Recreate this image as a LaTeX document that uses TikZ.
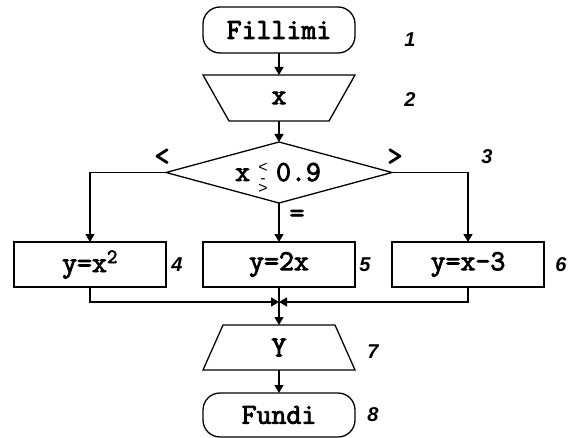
\documentclass[tikz,border=0pt]{standalone}
\usepackage{fontspec}
\setsansfont{Liberation Sans}
\newfontfamily\courfont{Latin Modern Mono}[FakeBold=3]
\usetikzlibrary{arrows.meta,shapes.geometric,calc}
\newcommand{\cmpstack}{\makebox[10pt]{\fontsize{16}{16}\selectfont\sffamily\makebox[0pt]{\raisebox{8pt}{<}}\makebox[0pt]{\raisebox{-2pt}{-}}\makebox[0pt]{\raisebox{-13pt}{>}}}}
\begin{document}
\begin{tikzpicture}[x=1pt,y=-1pt,
  every node/.style={outer sep=0pt},
  txt/.style={font=\fontsize{29}{30}\selectfont\courfont},
  term/.style={txt,draw,rounded corners=17pt,minimum width=152pt,minimum height=46pt,inner sep=0pt},
  proc/.style={txt,draw,minimum width=152pt,minimum height=45pt,inner sep=0pt},
  io/.style={txt,minimum width=152pt,minimum height=46pt,inner sep=0pt},
  num/.style={font=\fontsize{20}{22}\selectfont\sffamily\bfseries\itshape,inner sep=0pt},
  arr/.style={-{Triangle[length=8pt,width=9pt]}},
  line width=1.3pt]
\useasboundingbox (0,0) rectangle (569,438);
\node[term] (start) at (279,30) {Fillimi};
\node[io] (in) at (279,98) {x};
\draw (in.north west) -- (in.north east) -- ($(in.south east)+(-26,0)$) -- ($(in.south west)+(26,0)$) -- cycle;
\node[diamond,draw,minimum width=226pt,minimum height=61pt,inner sep=0pt] (dec) at (279,172.5) {};
\node[txt,anchor=base] (cond) at (278,181) {x\hspace{8pt}\cmpstack\hspace{8pt}0.9};
\node[proc] (b4) at (90,264.5) {y=x\textsuperscript{2}};
\node[proc] (b5) at (279,264.5) {y=2x};
\node[proc] (b6) at (468,264.5) {y=x-3};
\coordinate (m) at (279,302);
\node[io,minimum height=45pt] (out) at (279,347.5) {Y};
\draw ($(out.north west)+(20,0)$) -- ($(out.north east)+(-20,0)$) -- (out.south east) -- (out.south west) -- cycle;
\node[term,minimum height=44pt] (fin) at (279,415) {Fundi};
\draw[arr] (start.south) -- (in.north);
\draw[arr] (in.south) -- (dec.north);
\draw[arr] (dec.west) -| (b4.north);
\draw[arr] (dec.east) -| (b6.north);
\draw[arr] (dec.south) -- (b5.north);
\draw[arr] (b4.south) |- (m);
\draw[arr] (b6.south) |- (m);
\draw[arr] (b5.south) -- (out.north);
\draw[arr] (out.south) -- (fin.north);
\node[txt] (lt) at (162,157) {<};
\node[txt] (gt) at (395,157) {>};
\node[txt] (eq) at (297,216) {=};
\node[num] (n1) at (410,40) {1};
\node[num] (n2) at (410,100) {2};
\node[num] (n3) at (487,157) {3};
\node[num] (n4) at (177,265) {4};
\node[num] (n5) at (365,265) {5};
\node[num] (n6) at (561,265) {6};
\node[num] (n7) at (373,352) {7};
\node[num] (n8) at (373,415) {8};
\end{tikzpicture}
\end{document}
